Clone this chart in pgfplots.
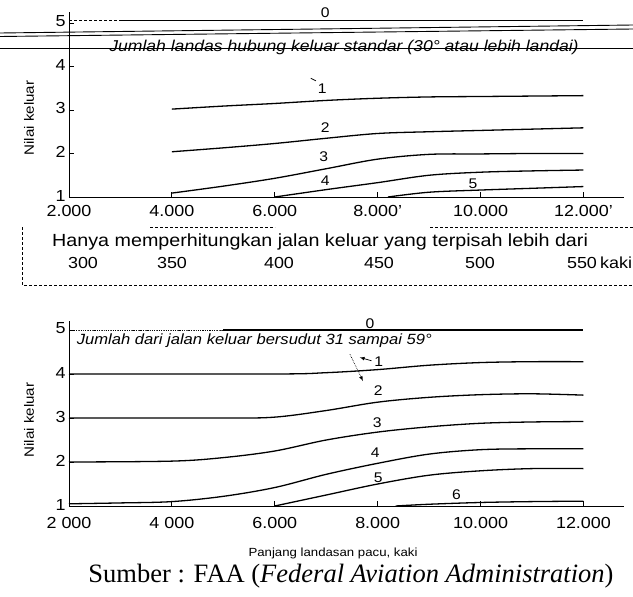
\documentclass[border=0pt]{standalone}
\usepackage{pgfplots}
\pgfplotsset{compat=1.18}
\usepackage{fontspec}
\setmainfont{Liberation Sans}[FakeStretch=1.12]
\newfontfamily\capfont{Liberation Serif}
\newcommand\fs[1]{\fontsize{#1}{#1}\selectfont}

\pgfplotsset{
  runway/.style={
    scale only axis, width=554.6pt,
    xmin=2000, xmax=12780, ymin=1,
    axis lines=left, axis line style={-, line width=0.8pt},
    scaled x ticks=false,
    xtick={2000,4000,6000,8000,10000,12000},
    ytick={1,2,3,4,5}, yticklabels={1,2,3,4,5},
    tick align=inside, major tick length=5pt,
    tick style={line width=0.8pt, black},
    ticklabel style={font=\fs{16}},
    yticklabel style={yshift=1.5pt},
    clip=false,
  },
  curve/.style={black, line width=1.3pt, smooth, tension=0.55, mark=none},
}
\tikzset{lab/.style={font=\fs{14}}}

\begin{document}
\begin{tikzpicture}
\useasboundingbox (0pt,0pt) rectangle (633pt,-597pt);

% ---- top chart: standard exits
\begin{axis}[runway, at={(69pt,-197pt)}, anchor=south west,
  ymax=5.25, height=184.9pt,
  xticklabel style={yshift=-5pt},
  xticklabels={2.000,4.000,6.000,{8.000'},10.000,{12.000'}}]
\addplot[curve, densely dashed, line width=0.8pt] coordinates {(2000,5.05) (3000,5.05)};
\addplot[curve] coordinates {(3000,5.05) (12000,5.05)};
\addplot[curve] coordinates {(4000,3.02) (5000,3.09) (6000,3.15) (7000,3.22) (8000,3.27) (9000,3.30) (10000,3.31) (11000,3.32) (12000,3.33)};
\addplot[curve] coordinates {(4000,2.04) (5000,2.13) (6000,2.23) (7000,2.35) (8000,2.46) (9000,2.50) (10000,2.53) (11000,2.56) (12000,2.59)};
\addplot[curve] coordinates {(4000,1.09) (5000,1.25) (6000,1.43) (7000,1.65) (8000,1.87) (9000,1.98) (10000,1.99) (11000,2.0) (12000,2.0)};
\addplot[curve] coordinates {(6000,1.0) (7000,1.17) (8000,1.33) (9000,1.50) (10000,1.57) (11000,1.60) (12000,1.62)};
\addplot[curve] coordinates {(8200,1.0) (9000,1.11) (10000,1.16) (11000,1.20) (12000,1.24)};
\node[lab] at (axis cs:6980,5.24) {0};
\node[lab] at (axis cs:6920,3.48) {1};
\draw[line width=0.8pt] (axis cs:6700,3.73) -- (axis cs:6800,3.67);
\node[lab] at (axis cs:6980,2.60) {2};
\node[lab] at (axis cs:6950,1.93) {3};
\node[lab] at (axis cs:6980,1.37) {4};
\node[lab] at (axis cs:9850,1.30) {5};
\end{axis}

% scan lines and strike-through caption of top chart
\draw[line width=0.9pt] (0pt,-33pt) -- (633pt,-25pt);
\draw[line width=0.9pt] (0pt,-36.5pt) -- (633pt,-29pt);
\node[font=\fs{15.7}\itshape] at (344pt,-47pt) {Jumlah landas hubung keluar standar (30° atau lebih landai)};
\draw[line width=1pt] (0pt,-48pt) -- (633pt,-48pt);
\node[font=\fs{13.5}, rotate=90] at (29pt,-118pt) {Nilai keluar};

% exit spacing box
\draw[densely dashed, line width=0.7pt] (22pt,-227pt) -- (22pt,-285pt) -- (633pt,-285pt);
\draw[densely dashed, line width=0.7pt] (150pt,-227pt) -- (275pt,-227pt);
\draw[densely dashed, line width=0.7pt] (430pt,-227pt) -- (633pt,-227pt);
\node[font=\fs{17.6}, anchor=west, inner sep=0pt] at (52pt,-242pt) {Hanya memperhitungkan jalan keluar yang terpisah lebih dari};
\node[font=\fs{16}] at (83pt,-263pt) {300};
\node[font=\fs{16}] at (172pt,-263pt) {350};
\node[font=\fs{16}] at (279pt,-263pt) {400};
\node[font=\fs{16}] at (379pt,-263pt) {450};
\node[font=\fs{16}] at (480pt,-263pt) {500};
\node[font=\fs{16}] at (582pt,-263pt) {550};
\node[font=\fs{16}, anchor=west, inner sep=0pt] at (600pt,-263pt) {kaki};

% ---- bottom chart: angled exits
\begin{axis}[runway, at={(69pt,-506pt)}, anchor=south west,
  ymax=5.2, height=184.8pt,
  xticklabel style={yshift=-8pt},
  xticklabels={2 000,4 000,6.000,8.000,10.000,12.000}]
\addplot[curve, densely dotted, line width=0.9pt] coordinates {(2000,5.0) (5000,5.0)};
\addplot[curve] coordinates {(5000,5.0) (12000,5.0)};
\addplot[curve] coordinates {(2000,4.0) (6000,4.0) (7000,4.03) (8000,4.10) (9000,4.20) (10000,4.26) (11000,4.28) (12000,4.28)};
\addplot[curve] coordinates {(2000,3.0) (5000,3.0) (6000,3.02) (7000,3.17) (8000,3.36) (9000,3.47) (10000,3.53) (11000,3.55) (12000,3.52)};
\addplot[curve] coordinates {(2000,2.0) (4000,2.02) (5000,2.10) (6000,2.25) (7000,2.50) (8000,2.68) (9000,2.80) (10000,2.88) (11000,2.91) (12000,2.92)};
\addplot[curve] coordinates {(2000,1.05) (3000,1.07) (4000,1.10) (5000,1.22) (6000,1.42) (7000,1.72) (8000,1.97) (9000,2.18) (10000,2.28) (11000,2.30) (12000,2.30)};
\addplot[curve] coordinates {(6000,1.0) (7000,1.25) (8000,1.50) (9000,1.70) (10000,1.80) (11000,1.85) (12000,1.85)};
\addplot[curve] coordinates {(8350,1.0) (9000,1.04) (10000,1.08) (11000,1.10) (12000,1.11)};
\node[font=\fs{14.8}\itshape, anchor=west, inner sep=0pt] at (axis cs:2150,4.75) {Jumlah dari jalan keluar bersudut 31 sampai 59°};
\node[lab] at (axis cs:7850,5.15) {0};
\node[lab] at (axis cs:8020,4.27) {1};
\draw[densely dotted, line width=0.7pt, -latex] (axis cs:7460,4.45) -- (axis cs:7714,3.84);
\draw[line width=0.7pt, -latex] (axis cs:7880,4.30) -- (axis cs:7650,4.38);
\node[lab] at (axis cs:8010,3.62) {2};
\node[lab] at (axis cs:7990,2.89) {3};
\node[lab] at (axis cs:7950,2.21) {4};
\node[lab] at (axis cs:8010,1.64) {5};
\node[lab] at (axis cs:9530,1.25) {6};
\end{axis}
\node[font=\fs{13.5}, rotate=90] at (29pt,-420pt) {Nilai keluar};

\node[font=\fs{11.8}] at (333pt,-553pt) {Panjang landasan pacu, kaki};
\node[font=\capfont\fs{26.5}, anchor=base] at (351pt,-582pt) {Sumber : FAA (\textit{Federal Aviation Administration})};
\end{tikzpicture}
\end{document}
